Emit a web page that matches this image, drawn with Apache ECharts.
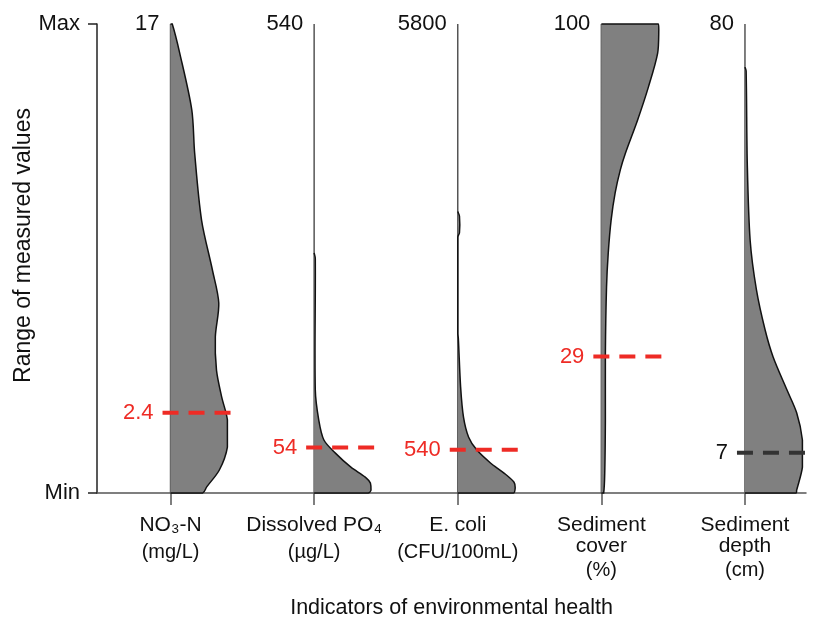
<!DOCTYPE html>
<html>
<head>
<meta charset="utf-8">
<script src="https://cdn.jsdelivr.net/npm/echarts@6/dist/echarts.min.js"></script>
<style>
  html, body { margin: 0; background: #fff; }
  #chart { width: 821px; height: 623px; }
</style>
</head>
<body>
<div id="chart"></div>
<script>
// categories
const categoryNames = ['NO₃-N', 'Dissolved PO₄', 'E. coli', 'Sediment\ncover', 'Sediment\ndepth'];
const categoryUnits = ['(mg/L)', '(µg/L)', '(CFU/100mL)', '(%)', '(cm)'];
const maxLabels = ['17', '540', '5800', '100', '80'];

// threshold lines, position within the Min..Max range
const thresholdValues = [0.171, 0.097, 0.092, 0.291, 0.086];
const thresholdLabels = ['2.4', '54', '540', '29', '7'];
const thresholdTypes = ['limit', 'limit', 'limit', 'limit', 'reference'];

// density profiles: [position in range (0 = Min, 1 = Max), relative density 0..100], top to bottom
const no3Profile = [[1.0, 3], [0.938, 16], [0.817, 37], [0.725, 42], [0.582, 54], [0.475, 73], [0.405, 84],
  [0.333, 78], [0.262, 80], [0.205, 89], [0.156, 99], [0.098, 99], [0.049, 85], [0.013, 63], [0, 56]];
const po4Profile = [[0.512, 0], [0.5, 2], [0.22, 2], [0.156, 8], [0.113, 17], [0.085, 37], [0.055, 64],
  [0.034, 89], [0.021, 98], [0.006, 99], [0, 94]];
const ecoliProfile = [[0.60, 0], [0.59, 3], [0.555, 3], [0.545, 0], [0.34, 0], [0.33, 1], [0.226, 5],
  [0.162, 10], [0.119, 19], [0.092, 33], [0.064, 57], [0.043, 80], [0.023, 98], [0.011, 100], [0, 97]];
const coverProfile = [[1.0, 99], [0.987, 100], [0.938, 98], [0.866, 82], [0.795, 63], [0.725, 42], [0.689, 33],
  [0.640, 24], [0.582, 17], [0.512, 12], [0.439, 9], [0.299, 7], [0.156, 7], [0.049, 6], [0, 4]];
const depthProfile = [[0.908, 0], [0.9, 2], [0.704, 4], [0.539, 9], [0.433, 20], [0.348, 35], [0.290, 49],
  [0.220, 73], [0.171, 90], [0.113, 100], [0.055, 100], [0.006, 90], [0, 89]];

const profiles = [no3Profile, po4Profile, ecoliProfile, coverProfile, depthProfile];

const SANS = "'Liberation Sans', Arial, sans-serif";
const RED = '#ee2b25';
const WIDTH_UNIT = 0.4 / 100; // density 100 -> 0.4 category widths

function formatCategory(i) {
  const lines = categoryNames[i].split('\n');
  const name = lines.map(l => '{n|' + l + '}').join('\n');
  const unitStyle = lines.length > 1 ? 'u2' : 'u1';
  return name + '\n{' + unitStyle + '|' + categoryUnits[i] + '}';
}

function renderViolin(params, api) {
  const i = api.value(0);
  const profile = profiles[i];
  const pts = [api.coord([i, profile[0][0]])];
  profile.forEach(p => pts.push(api.coord([i + p[1] * WIDTH_UNIT, p[0]])));
  pts.push(api.coord([i, 0]));
  const top = api.coord([i, 1]);
  const bottom = api.coord([i, 0]);
  const ty = api.coord([i, thresholdValues[i]])[1];
  const isRef = thresholdTypes[i] === 'reference';
  return {
    type: 'group',
    children: [
      {
        type: 'line',
        shape: { x1: top[0], y1: top[1], x2: bottom[0], y2: bottom[1] },
        style: { stroke: '#555', lineWidth: 1.5 }
      },
      {
        type: 'polyline',
        // constraint keeps the smoothed curve inside the points' bounding box
        shape: { points: pts, smooth: 0.3, smoothConstraint: [pts[0], pts[0]] },
        style: { fill: '#808080', stroke: '#111', lineWidth: 1.5 }
      },
      {
        type: 'line',
        shape: { x1: top[0] - 8, y1: ty, x2: top[0] + 60, y2: ty },
        style: { stroke: isRef ? '#333' : RED, lineWidth: 4, lineDash: [16, 10] }
      },
      {
        type: 'text',
        x: top[0] - 17,
        y: ty,
        style: {
          text: thresholdLabels[i], fill: isRef ? '#111' : RED,
          fontSize: 22, fontFamily: SANS, align: 'right', verticalAlign: 'middle'
        }
      },
      {
        type: 'text',
        x: top[0] - 11,
        y: top[1],
        style: {
          text: maxLabels[i], fill: '#111',
          fontSize: 22, fontFamily: SANS, align: 'right', verticalAlign: 'middle'
        }
      }
    ]
  };
}

const myChart = echarts.init(document.getElementById('chart'));
myChart.setOption({
  animation: false,
  backgroundColor: '#fff',
  grid: { left: 97, right: 15, top: 24, bottom: 130, outerBoundsMode: 'none' },
  xAxis: {
    type: 'value',
    min: -0.512,
    max: 4.425,
    name: 'Indicators of environmental health',
    nameLocation: 'middle',
    nameGap: 104,
    nameMoveOverlap: false,
    nameTextStyle: { fontSize: 21.5, fontFamily: SANS, color: '#111' },
    axisLine: { onZero: false, lineStyle: { color: '#555', width: 1.5 } },
    axisTick: { customValues: [0, 1, 2, 3, 4], length: 12, lineStyle: { color: '#555', width: 1.5 } },
    axisLabel: {
      customValues: [0, 1, 2, 3, 4],
      margin: 22,
      formatter: v => formatCategory(Math.round(v)),
      rich: {
        n: { fontSize: 21, lineHeight: 21, fontFamily: SANS, color: '#111' },
        u1: { fontSize: 20, lineHeight: 33, fontFamily: SANS, color: '#111' },
        u2: { fontSize: 20, lineHeight: 27, fontFamily: SANS, color: '#111' }
      }
    },
    splitLine: { show: false }
  },
  yAxis: {
    type: 'value',
    min: 0,
    max: 1,
    name: 'Range of measured values',
    nameLocation: 'middle',
    nameGap: 62,
    nameMoveOverlap: false,
    nameTextStyle: { fontSize: 23, fontFamily: SANS, color: '#111', padding: [0, 0, 0, 26] },
    axisLine: { onZero: false, lineStyle: { color: '#222', width: 1.5 } },
    axisTick: { customValues: [0, 1], length: 9, lineStyle: { color: '#222', width: 1.5 } },
    axisLabel: {
      customValues: [0, 1],
      margin: 17,
      fontSize: 22,
      fontFamily: SANS,
      color: '#111',
      formatter: v => (v === 1 ? 'Max' : 'Min')
    },
    splitLine: { show: false }
  },
  series: [{
    type: 'custom',
    renderItem: renderViolin,
    clip: false,
    data: profiles.map((p, i) => [i, 0])
  }]
});

window.addEventListener('resize', () => { myChart.resize(); });
</script>
</body>
</html>
